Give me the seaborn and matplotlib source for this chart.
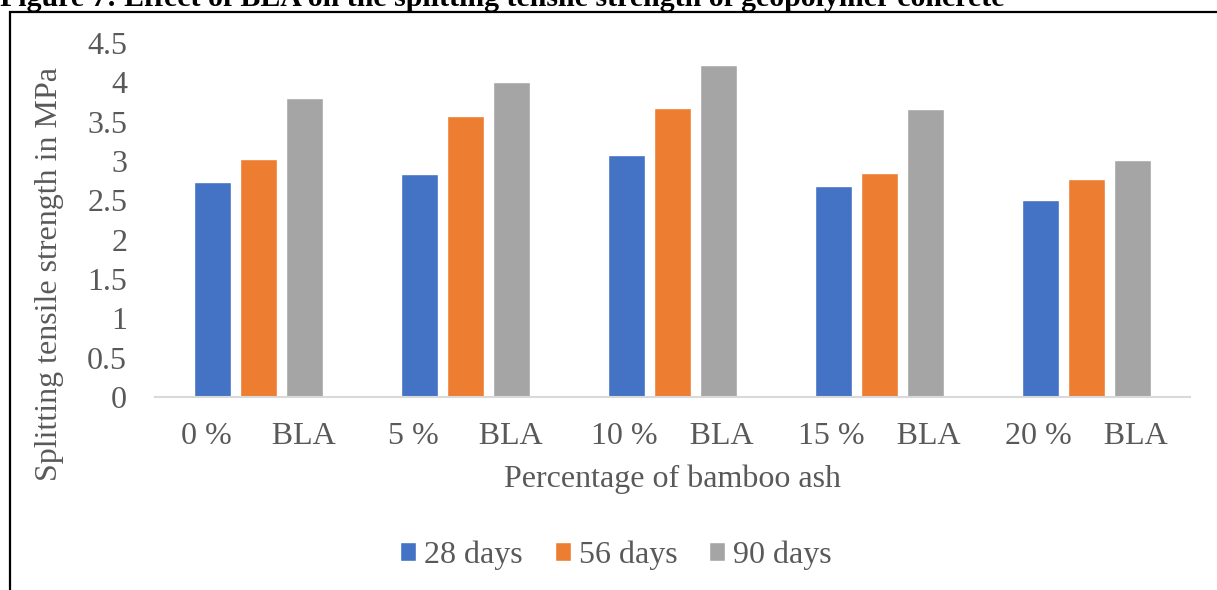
import matplotlib
matplotlib.use("Agg")
import matplotlib.pyplot as plt
import seaborn as sns
import pandas as pd
from matplotlib.patches import Rectangle

# Splitting tensile strength (MPa) by bamboo ash content and curing age
ash_levels = ["0 %", "5 %", "10 %", "15 %", "20 %"]
tick_labels = ["0 %     BLA", "5 %     BLA", "10 %    BLA", "15 %    BLA", "20 %    BLA"]
ages = ["28 days", "56 days", "90 days"]
strength_28 = [2.73, 2.84, 3.08, 2.68, 2.50]
strength_56 = [3.03, 3.57, 3.68, 2.85, 2.77]
strength_90 = [3.80, 4.01, 4.22, 3.66, 3.01]
colors = ["#4472C4", "#ED7D31", "#A5A5A5"]

rows = []
for age, vals in zip(ages, [strength_28, strength_56, strength_90]):
    for lvl, v in zip(ash_levels, vals):
        rows.append({"ash": lvl, "age": age, "strength": v})
df = pd.DataFrame(rows)

sns.set_theme(style="white")
plt.rcParams["font.family"] = ["Liberation Serif", "DejaVu Serif"]
text_color = "#595959"
fs = 23

W, H = 1217, 590
fig = plt.figure(figsize=(W / 100, H / 100), dpi=100)
ax = fig.add_axes([155 / W, 1 - 397 / H, (1190 - 155) / W, (397 - 43) / H])

sns.barplot(data=df, x="ash", y="strength", hue="age", order=ash_levels,
            hue_order=ages, palette=colors, width=0.67, gap=0.2,
            saturation=1, errorbar=None, ax=ax, legend=True)

ax.set_ylim(0, 4.5)
ax.set_xlim(-0.5, len(ash_levels) - 0.5)
ax.set_yticks([0, 0.5, 1, 1.5, 2, 2.5, 3, 3.5, 4, 4.5])
ax.set_yticklabels(["0", "0.5", "1", "1.5", "2", "2.5", "3", "3.5", "4", "4.5"])
ax.set_xticks(range(len(ash_levels)))
ax.set_xticklabels(tick_labels)
ax.tick_params(axis="both", length=0, labelsize=fs, labelcolor=text_color)
ax.tick_params(axis="y", pad=20)
ax.tick_params(axis="x", pad=18)
ax.set_xlabel("")
ax.set_ylabel("")
for side in ["top", "right", "left"]:
    ax.spines[side].set_visible(False)
ax.spines["bottom"].set_color("#D9D9D9")
ax.spines["bottom"].set_linewidth(1.5)

# Axis titles
fig.text(672 / W, 1 - 479 / H, "Percentage of bamboo ash", ha="center", va="center",
         fontsize=fs, color=text_color)
fig.text(50 / W, 1 - 274 / H, "Splitting tensile strength in MPa", ha="center",
         va="center", rotation=90, fontsize=fs, color=text_color)

# Legend along the bottom
handles, labels = ax.get_legend_handles_labels()
ax.legend_.remove()
fig.legend(handles, labels, loc="center", bbox_to_anchor=(616 / W, 1 - 555 / H),
           ncol=3, frameon=False, fontsize=fs, labelcolor=text_color,
           handlelength=0.5, handleheight=0.5, handletextpad=0.25, columnspacing=1.0)

# Figure caption, running off the top edge
fig.text(0.0, 1 - 6 / H, "Figure 7: Effect of BLA on the splitting tensile strength of geopolymer concrete",
         ha="left", va="baseline", fontsize=21.5, fontweight="bold", color="black")

# Chart frame
fig.patches.append(Rectangle((10 / W, -0.05), 1.1, 1 - 12 / H + 0.05, transform=fig.transFigure,
                             fill=False, edgecolor="black", linewidth=1.6))

fig.savefig("out.png", dpi=100)
